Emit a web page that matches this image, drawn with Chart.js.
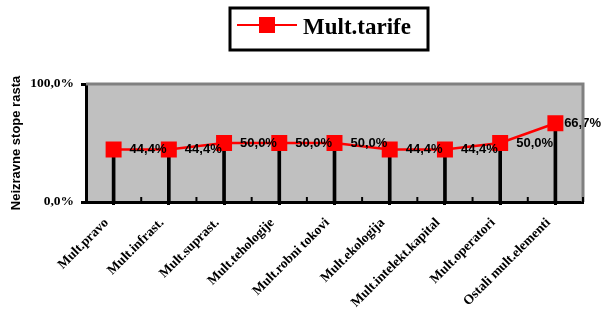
<!DOCTYPE html>
<html>
<head>
<meta charset="utf-8">
<script src="https://cdn.jsdelivr.net/npm/chart.js@4"></script>
<style>
  body { margin: 0; background: #fff; }
  #wrap { width: 602px; height: 309px; }
</style>
</head>
<body>
<div id="wrap"><canvas id="chart" width="602" height="309"></canvas></div>
<script>
// ===== Data =====
const categories = [
    'Mult.pravo',
    'Mult.infrast.',
    'Mult.suprast.',
    'Mult.tehologije',
    'Mult.robni tokovi',
    'Mult.ekologija',
    'Mult.intelekt.kapital',
    'Mult.operatori',
    'Ostali mult.elementi'
];
const tarifeValues = [44.4, 44.4, 50.0, 50.0, 50.0, 44.4, 44.4, 50.0, 66.7];
const yTicks = [0, 100];
const seriesName = 'Mult.tarife';
const yTitle = 'Neizravne stope rasta';

// ===== Styles =====
const RED = '#FF0000';
const PLOT_BG = '#C0C0C0';
const PLOT_EDGE = '#808080';
const SERIF = '"Liberation Serif", "Times New Roman", serif';
const SANS = '"Liberation Sans", Arial, sans-serif';

const pct = (v) => v.toFixed(1).replace('.', ',') + '%';

// ===== Plugins =====
const plotFrame = {
    id: 'plotFrame',
    beforeDraw(chart) {
        const { ctx, chartArea: a } = chart;
        ctx.save();
        ctx.fillStyle = PLOT_BG;
        ctx.fillRect(a.left, a.top, a.right - a.left, a.bottom - a.top);
        ctx.restore();
    },
    afterDraw(chart) {
        const { ctx, chartArea: a } = chart;
        const x = chart.scales.x;
        ctx.save();
        ctx.strokeStyle = PLOT_EDGE;
        ctx.lineWidth = 3;
        ctx.beginPath();
        ctx.moveTo(a.left, a.top);
        ctx.lineTo(a.right, a.top);
        ctx.lineTo(a.right, a.bottom);
        ctx.stroke();
        // small inner ticks between categories
        ctx.strokeStyle = '#000';
        ctx.lineWidth = 2;
        for (let i = 0; i <= categories.length; i++) {
            const px = x.getPixelForValue(i - 0.5);
            ctx.beginPath();
            ctx.moveTo(px, a.bottom);
            ctx.lineTo(px, a.bottom - 5);
            ctx.stroke();
        }
        ctx.restore();
    }
};

const valueLabels = {
    id: 'valueLabels',
    afterDatasetsDraw(chart) {
        const { ctx } = chart;
        const meta = chart.getDatasetMeta(1);
        ctx.save();
        ctx.font = 'bold 13px ' + SANS;
        ctx.fillStyle = '#000';
        ctx.textAlign = 'left';
        ctx.textBaseline = 'middle';
        meta.data.forEach((pt, i) => {
            const txt = pct(tarifeValues[i]);
            // keep the label inside the canvas, like the original does
            const lx = Math.min(pt.x + 16, chart.width - ctx.measureText(txt).width - 1);
            ctx.fillText(txt, lx, pt.y);
        });
        ctx.restore();
    }
};

const boxLegend = {
    id: 'boxLegend',
    afterDraw(chart) {
        const { ctx } = chart;
        ctx.save();
        ctx.strokeStyle = '#000';
        ctx.lineWidth = 3;
        ctx.strokeRect(230, 8, 198, 42);
        ctx.strokeStyle = RED;
        ctx.lineWidth = 2;
        ctx.beginPath();
        ctx.moveTo(237, 25);
        ctx.lineTo(297, 25);
        ctx.stroke();
        ctx.fillStyle = RED;
        ctx.fillRect(259, 17, 16, 16);
        ctx.fillStyle = '#000';
        ctx.font = 'bold 23px ' + SERIF;
        ctx.textBaseline = 'alphabetic';
        ctx.fillText(seriesName, 303, 34);
        ctx.restore();
    }
};

// ===== Chart =====
const ctx = document.getElementById('chart').getContext('2d');
new Chart(ctx, {
    data: {
        labels: categories,
        datasets: [
            {
                type: 'bar',
                label: 'drop',
                data: tarifeValues,
                backgroundColor: '#000',
                barThickness: 3,
                order: 2
            },
            {
                type: 'line',
                label: seriesName,
                data: tarifeValues,
                borderColor: RED,
                borderWidth: 2.5,
                pointStyle: 'rect',
                pointRadius: 11.3,
                pointBorderWidth: 0,
                pointBackgroundColor: RED,
                pointBorderColor: RED,
                order: 1
            }
        ]
    },
    options: {
        responsive: false,
        animation: false,
        layout: { padding: { top: 84, right: 19, left: 0, bottom: 0 } },
        plugins: {
            legend: { display: false },
            tooltip: { enabled: false }
        },
        scales: {
            x: {
                offset: true,
                afterFit: (s) => { s.height = 107; },
                grid: {
                    offset: false,
                    drawOnChartArea: false,
                    drawTicks: true,
                    tickLength: 3,
                    tickWidth: 3,
                    tickColor: '#000'
                },
                border: { color: '#000', width: 3 },
                ticks: {
                    autoSkip: false,
                    maxRotation: 45,
                    minRotation: 45,
                    padding: 10,
                    labelOffset: -7,
                    color: '#000',
                    font: { family: SERIF, size: 13.5, weight: 'bold' }
                }
            },
            y: {
                min: yTicks[0],
                max: yTicks[yTicks.length - 1],
                afterFit: (s) => { s.width = 86; },
                afterBuildTicks: (s) => { s.ticks = yTicks.map(v => ({ value: v })); },
                grid: {
                    drawOnChartArea: false,
                    drawTicks: true,
                    tickLength: 5,
                    tickWidth: 3,
                    tickColor: '#000'
                },
                border: { color: '#000', width: 3 },
                ticks: {
                    padding: 7,
                    color: '#000',
                    font: { family: SERIF, size: 13.5, weight: 'bold' },
                    callback: (v) => pct(v)
                },
                title: {
                    display: true,
                    text: yTitle,
                    color: '#000',
                    padding: { top: 9, bottom: 0 },
                    font: { family: SANS, size: 13, weight: 'bold' }
                }
            }
        }
    },
    plugins: [plotFrame, valueLabels, boxLegend]
});
</script>
</body>
</html>
